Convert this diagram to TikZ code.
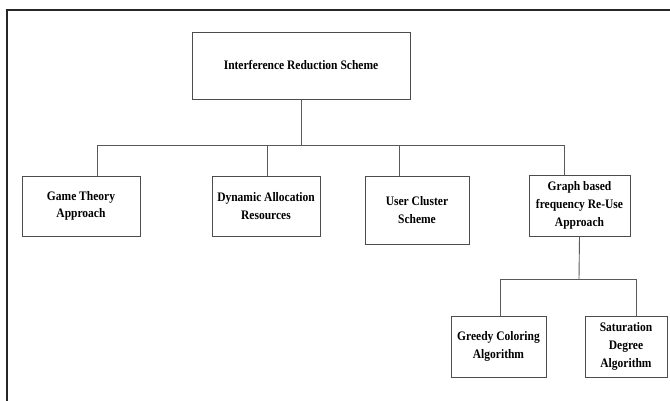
\documentclass[tikz,border=0pt]{standalone}
\usepackage{fontspec}
\setmainfont{Liberation Serif}[FakeStretch=0.885]
\begin{document}
\begin{tikzpicture}[x=1pt,y=-1pt,
  box/.style={draw=black!70, line width=0.9pt, align=center, inner sep=0pt,
    font=\fontsize{13}{17.7}\selectfont\bfseries},
  link/.style={draw=black!65, line width=0.9pt}]
\useasboundingbox (0,0) rectangle (670,401);
\draw[line width=1.4pt, black!85] (7,401) -- (7,10) -- (670,10);
\node[box, minimum width=218pt, minimum height=67pt] (root) at (301,65.5) {Interference Reduction Scheme};
\node[box, minimum width=118pt, minimum height=60pt] (game) at (81,206) {Game Theory\\Approach};
\node[box, minimum width=108pt, minimum height=60pt] (dyn) at (266,206) {Dynamic Allocation\\Resources};
\node[box, minimum width=104pt, minimum height=68pt] (user) at (417,210) {User Cluster\\Scheme};
\node[box, minimum width=101pt, minimum height=61pt] (graph) at (579.5,205.5) {Graph based\\frequency Re-Use\\Approach};
\node[box, minimum width=95pt, minimum height=61pt] (greedy) at (498.5,346.5) {Greedy Coloring\\Algorithm};
\node[box, minimum width=82pt, minimum height=61pt] (sat) at (626,346.5) {Saturation\\Degree\\Algorithm};
\coordinate (b0) at (301,145);
\coordinate (bG) at (97,145);
\coordinate (bD) at (267,145);
\coordinate (bU) at (399,145);
\coordinate (bR) at (564,145);
\coordinate (c0) at (579,279);
\coordinate (cG) at (500,279);
\coordinate (cS) at (636,279);
\draw[link] (root.south) -- (b0);
\draw[link] (bG) -- (bR);
\draw[link] (bG) -- (bG |- game.north);
\draw[link] (bD) -- (bD |- dyn.north);
\draw[link] (bU) -- (bU |- user.north);
\draw[link] (bR) -- (bR |- graph.north);
\draw[link] (graph.south) -- (c0);
\draw[link] (cG) -- (cS);
\draw[link] (cG) -- (cG |- greedy.north);
\draw[link] (cS) -- (cS |- sat.north);
\end{tikzpicture}
\end{document}
